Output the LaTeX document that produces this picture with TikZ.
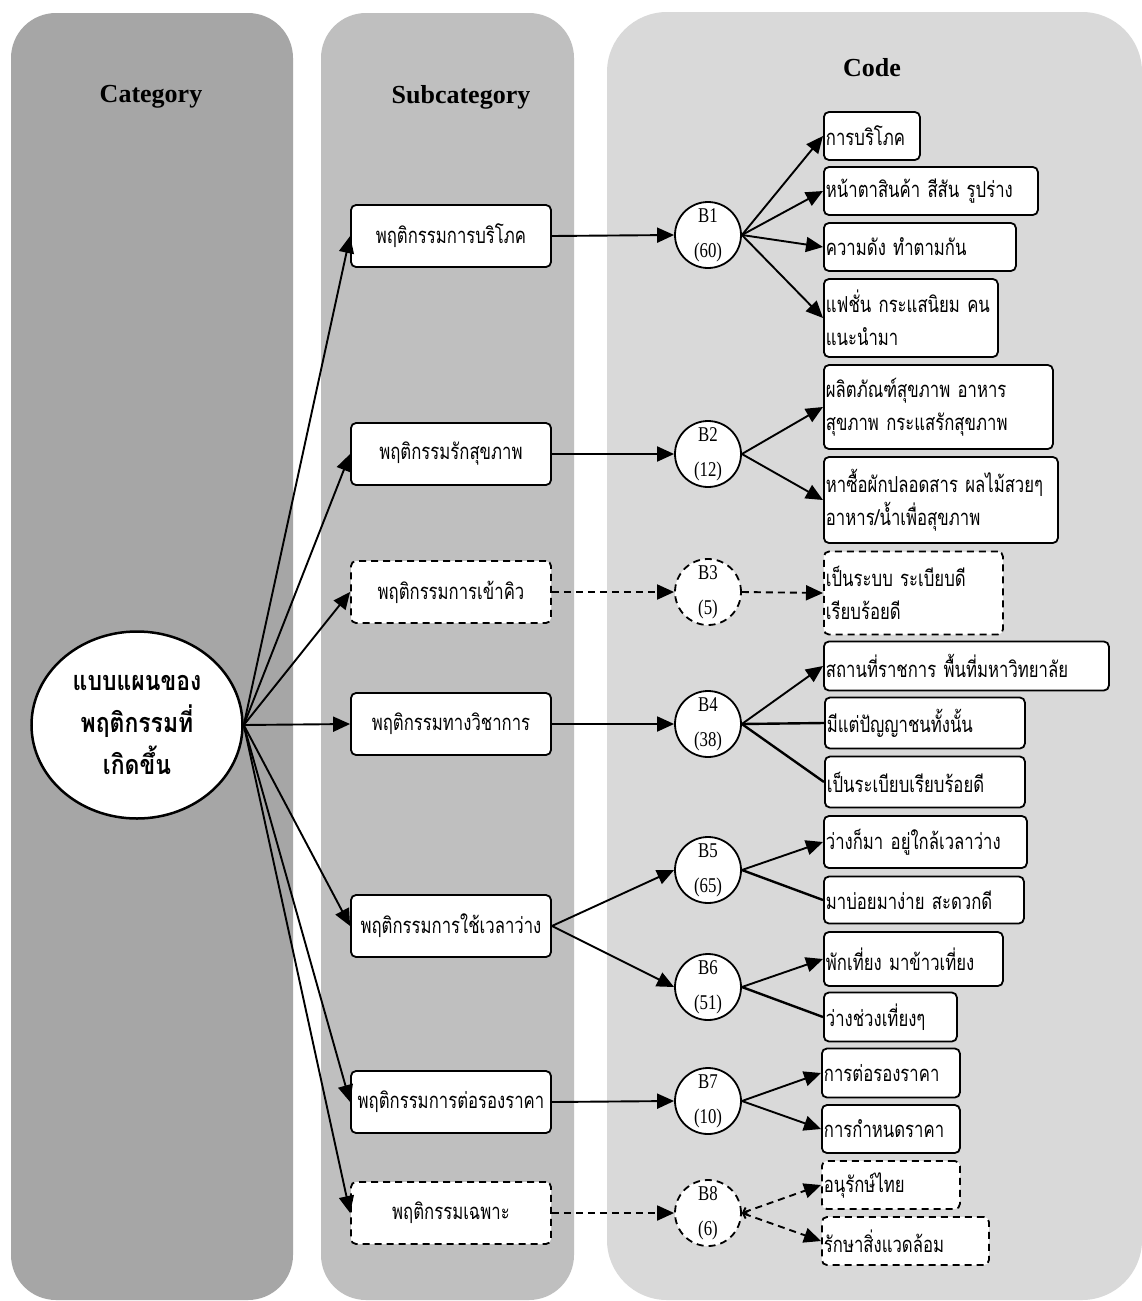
\documentclass[tikz,border=0pt]{standalone}
\usepackage{fontspec}
\usetikzlibrary{arrows.meta,shapes.geometric}
\newfontfamily\thaifont[Script=Thai,FakeStretch=0.76]{Loma}
\newfontfamily\rootfont[Script=Thai,FakeStretch=0.85]{Loma}
\newfontfamily\headfont{Liberation Serif}
\newfontfamily\labfont[FakeStretch=0.8]{Liberation Serif}
\definecolor{catfill}{HTML}{A6A6A6}
\definecolor{subfill}{HTML}{BFBFBF}
\definecolor{codefill}{HTML}{D9D9D9}
\begin{document}
\begin{tikzpicture}[x=1pt,y=-1pt,
  header/.style={font=\headfont\bfseries\fontsize{26}{30}\selectfont},
  subbox/.style={draw, line width=1.8pt, rounded corners=5pt, fill=white,
    minimum width=200pt, minimum height=62pt, inner sep=0pt,
    font=\thaifont\fontsize{22}{26}\selectfont},
  codebox/.style={draw, line width=1.8pt, rounded corners=5pt, fill=white,
    inner xsep=2pt, inner ysep=0pt, align=left, anchor=west,
    font=\thaifont\fontsize{22}{33}\selectfont},
  dashedline/.style={dash pattern=on 7pt off 5pt},
  bcirc/.style={circle, draw, line width=1.8pt, fill=white, minimum size=66pt,
    inner sep=0pt, align=center, font=\labfont\fontsize{21}{35}\selectfont},
  tip/.style={-{Triangle[length=17pt,width=15pt]}},
  link/.style={line width=1.9pt, tip},
  dlink/.style={link, dashedline},
  bare/.style={line width=2.4pt},
]
% page and column panels
\useasboundingbox (0,0) rectangle (1142,1301);
\fill[white] (0,0) rectangle (1142,1301);
\fill[catfill, rounded corners=45pt] (11,13) rectangle (293,1300);
\fill[subfill, rounded corners=45pt] (321,13) rectangle (574,1300);
\fill[codefill, rounded corners=60pt] (607,12) rectangle (1142,1300);

\node[header] (hcat) at (151,97) {Category};
\node[header] (hsub) at (461,97) {Subcategory};
\node[header] (hcode) at (872,68) {Code};

% category
\node[ellipse, draw, line width=2.5pt, fill=white, minimum width=211pt,
  minimum height=187pt, inner sep=0pt, align=center,
  font=\rootfont\bfseries\fontsize{27}{42}\selectfont] (root) at (137,725)
  {แบบแผนของ\\พฤติกรรมที่\\เกิดขึ้น};
\coordinate (rE) at (root.east);

% subcategories
\node[subbox] (s1) at (451,236) {พฤติกรรมการบริโภค};
\node[subbox] (s2) at (451,454) {พฤติกรรมรักสุขภาพ};
\node[subbox, dashedline] (s3) at (451,592) {พฤติกรรมการเข้าคิว};
\node[subbox] (s4) at (451,724) {พฤติกรรมทางวิชาการ};
\node[subbox] (s5) at (451,926) {พฤติกรรมการใช้เวลาว่าง};
\node[subbox] (s6) at (451,1102) {พฤติกรรมการต่อรองราคา};
\node[subbox, dashedline] (s7) at (451,1213) {พฤติกรรมเฉพาะ};

% code groups
\node[bcirc] (b1) at (708,235) {B1\\(60)};
\node[bcirc] (b2) at (708,454) {B2\\(12)};
\node[bcirc, dashedline] (b3) at (708,592) {B3\\(5)};
\node[bcirc] (b4) at (708,724) {B4\\(38)};
\node[bcirc] (b5) at (708,870) {B5\\(65)};
\node[bcirc] (b6) at (708,987) {B6\\(51)};
\node[bcirc] (b7) at (708,1101) {B7\\(10)};
\node[bcirc, dashedline] (b8) at (708,1213) {B8\\(6)};

% codes
\node[codebox, text width=92pt, minimum height=48pt] (c11) at (823,136) {การบริโภค};
\node[codebox, text width=210pt, minimum height=48pt] (c12) at (823,191) {หน้าตาสินค้า สีสัน รูปร่าง};
\node[codebox, text width=188pt, minimum height=48pt] (c13) at (823,247) {ความดัง ทำตามกัน};
\node[codebox, text width=170pt, minimum height=78pt] (c14) at (823,318) {แฟชั่น กระแสนิยม คน\\แนะนำมา};
\node[codebox, text width=225pt, minimum height=84pt] (c21) at (823,407) {ผลิตภัณฑ์สุขภาพ อาหาร\\สุขภาพ กระแสรักสุขภาพ};
\node[codebox, text width=230pt, minimum height=86pt] (c22) at (823,500) {หาซื้อผักปลอดสาร ผลไม้สวยๆ\\อาหาร/น้ำเพื่อสุขภาพ};
\node[codebox, dashedline, text width=175pt, minimum height=83pt] (c31) at (823,593) {เป็นระบบ ระเบียบดี\\เรียบร้อยดี};
\node[codebox, text width=281pt, minimum height=49pt] (c41) at (823,666) {สถานที่ราชการ พื้นที่มหาวิทยาลัย};
\node[codebox, text width=196pt, minimum height=51pt] (c42) at (824,723) {มีแต่ปัญญาชนทั้งนั้น};
\node[codebox, text width=196pt, minimum height=51pt] (c43) at (824,782) {เป็นระเบียบเรียบร้อยดี};
\node[codebox, text width=199pt, minimum height=52pt] (c51) at (823,842) {ว่างก็มา อยู่ใกล้เวลาว่าง};
\node[codebox, text width=196pt, minimum height=47pt] (c52) at (823,900) {มาบ่อยมาง่าย สะดวกดี};
\node[codebox, text width=175pt, minimum height=54pt] (c61) at (823,959) {พักเที่ยง มาข้าวเที่ยง};
\node[codebox, text width=129pt, minimum height=49pt] (c62) at (823,1017) {ว่างช่วงเที่ยงๆ};
\node[codebox, text width=134pt, minimum height=49pt] (c71) at (821,1073) {การต่อรองราคา};
\node[codebox, text width=134pt, minimum height=48pt] (c72) at (821,1129) {การกำหนดราคา};
\node[codebox, dashedline, text width=134pt, minimum height=48pt] (c81) at (821,1185) {อนุรักษ์ไทย};
\node[codebox, dashedline, text width=163pt, minimum height=48pt] (c82) at (821,1241) {รักษาสิ่งแวดล้อม};

% category to subcategories
\draw[link] (rE) -- (s1.west);
\draw[link] (rE) -- (s2.west);
\draw[link] (rE) -- (s3.west);
\draw[link] (rE) -- (s4.west);
\draw[link] (rE) -- (s5.west);
\draw[link] (rE) -- (s6.west);
\draw[link] (rE) -- (s7.west);

% subcategories to code groups
\draw[link] (s1.east) -- (b1.west);
\draw[link] (s2.east) -- (b2.west);
\draw[dlink] (s3.east) -- (b3.west);
\draw[link] (s4.east) -- (b4.west);
\draw[link] (s5.east) -- (b5.west);
\draw[link] (s5.east) -- (b6.west);
\draw[link] (s6.east) -- (b7.west);
\draw[dlink] (s7.east) -- (b8.west);

% code groups to codes
\draw[link] (b1.east) -- (c11.west);
\draw[link] (b1.east) -- (c12.west);
\draw[link] (b1.east) -- (c13.west);
\draw[link] (b1.east) -- (c14.west);
\draw[link] (b2.east) -- (c21.west);
\draw[link] (b2.east) -- (c22.west);
\draw[dlink] (b3.east) -- (c31.west);
\draw[link] (b4.east) -- (c41.west);
\draw[bare] (b4.east) -- (c42.west);
\draw[bare] (b4.east) -- (c43.west);
\draw[link] (b5.east) -- (c51.west);
\draw[bare] (b5.east) -- (c52.west);
\draw[link] (b6.east) -- (c61.west);
\draw[bare] (b6.east) -- (c62.west);
\draw[link] (b7.east) -- (c71.west);
\draw[link] (b7.east) -- (c72.west);
\draw[dlink, {Straight Barb[length=4pt,width=8pt]}-{Triangle[length=17pt,width=15pt]}] (b8.east) -- (c81.west);
\draw[dlink, {Straight Barb[length=4pt,width=8pt]}-{Triangle[length=17pt,width=15pt]}] (b8.east) -- (c82.west);
\end{tikzpicture}
\end{document}
